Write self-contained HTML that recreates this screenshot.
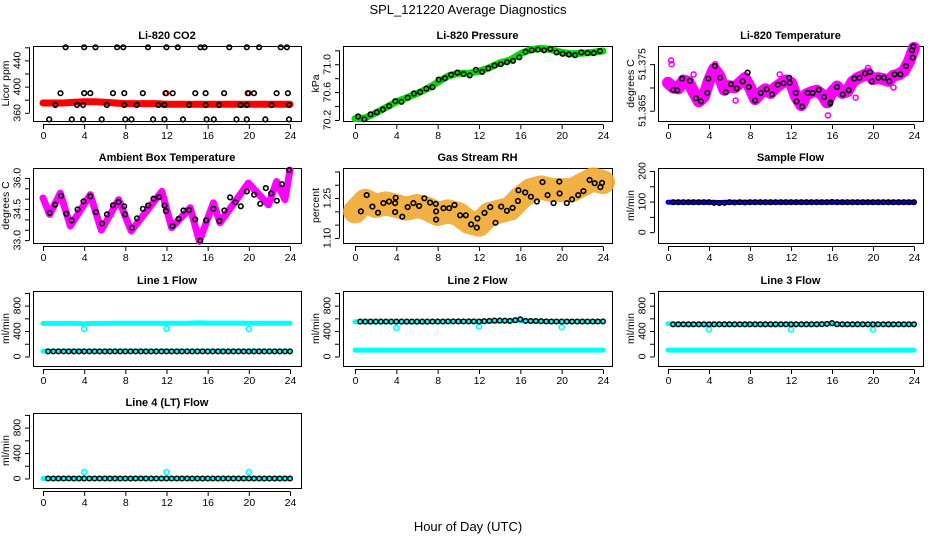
<!DOCTYPE html>
<html><head><meta charset="utf-8"><title>SPL_121220 Average Diagnostics</title>
<style>
html,body{margin:0;padding:0;background:#fff;}
svg{display:block;font-family:"Liberation Sans",Arial,sans-serif;}
</style></head>
<body>
<svg id="chart" width="936" height="540" viewBox="0 0 936 540" xmlns="http://www.w3.org/2000/svg">
<rect x="0" y="0" width="936" height="540" fill="#fff"/>
<text x="468" y="14" text-anchor="middle" font-size="13">SPL_121220  Average Diagnostics</text>
<text x="468" y="531" text-anchor="middle" font-size="13">Hour of Day (UTC)</text>
</svg>
<script>
// ---------- data ----------
const hours25 = [0,1,2,3,4,5,6,7,8,9,10,11,12,13,14,15,16,17,18,19,20,21,22,23,24];
const xTicks = [0,4,8,12,16,20,24];

const co2Red = [375,375,375,376,377,377,376,375,374,374,374,374,373,373,373,373,373,373,373,373,373,373,373,373,373];
const co2BlackT = [2.2,4.0,5.1,7.2,7.8,10.2,12.0,13.1,15.3,15.7,18.1,19.8,21.0,23.1,23.7,
 1.7,4.0,4.6,6.8,7.9,9.7,11.9,12.6,14.8,15.8,17.6,19.9,20.5,22.7,23.8,
 1.2,3.3,3.9,6.2,7.9,9.1,11.2,11.8,14.2,15.8,17.1,19.2,19.8,22.2,23.9,
 0.6,2.8,3.9,5.7,8.0,8.6,10.7,11.8,13.6,15.9,16.6,18.8,19.8,21.6,23.9];
const co2BlackV = [460,460,460,460,460,460,460,460,460,460,460,460,460,460,460,
 390,390,390,390,390,390,390,390,390,390,390,390,390,390,390,
 372,372,372,372,372,372,372,372,372,372,372,372,372,372,372,
 350,350,350,350,350,350,350,350,350,350,350,350,350,350,350];
const co2RedT = [4,12,20];
const co2RedV = [390,390,390];

const pressGreen = [70.22,70.23,70.30,70.38,70.46,70.52,70.58,70.65,70.74,70.83,70.87,70.87,70.90,70.95,71.02,71.06,71.15,71.21,71.23,71.21,71.17,71.15,71.16,71.17,71.19];
const pressBlackT = [0.3,0.9,1.5,2.1,2.7,3.3,3.9,4.5,5.1,5.7,6.3,6.9,7.5,8.1,8.7,9.3,9.9,10.5,11.1,11.7,12.3,12.9,13.5,14.1,14.7,15.3,15.9,16.5,17.1,17.7,18.3,18.9,19.5,20.1,20.7,21.3,21.9,22.5,23.1,23.7];
const pressBlackV = [70.25,70.21,70.28,70.31,70.35,70.40,70.47,70.46,70.52,70.58,70.60,70.65,70.67,70.78,70.80,70.85,70.88,70.86,70.84,70.92,70.89,70.94,70.98,71.00,71.03,71.05,71.10,71.18,71.20,71.21,71.20,71.22,71.17,71.15,71.14,71.13,71.17,71.16,71.16,71.19];

const halfHours = [0,0.5,1,1.5,2,2.5,3,3.5,4,4.5,5,5.5,6,6.5,7,7.5,8,8.5,9,9.5,10,10.5,11,11.5,12,12.5,13,13.5,14,14.5,15,15.5,16,16.5,17,17.5,18,18.5,19,19.5,20,20.5,21,21.5,22,22.5,23,23.5,24];
const tempMagenta = [51.3710,51.3700,51.3698,51.3715,51.3712,51.3690,51.3670,51.3680,51.3715,51.3740,51.3725,51.3695,51.3703,51.3700,51.3710,51.3720,51.3700,51.3675,51.3688,51.3696,51.3688,51.3700,51.3708,51.3715,51.3710,51.3680,51.3662,51.3685,51.3690,51.3693,51.3685,51.3668,51.3690,51.3702,51.3688,51.3692,51.3712,51.3720,51.3725,51.3730,51.3718,51.3720,51.3718,51.3714,51.3725,51.3728,51.3735,51.3755,51.3785];
const tempOutT = [0.3,0.35,2.5,4.6,6.6,10.9,15.6,18.3,19.5,22.0];
const tempOutV = [51.3758,51.3750,51.3728,51.3750,51.3672,51.3728,51.3640,51.3678,51.3742,51.3700];
const tempBlackT = [0.52,0.90,1.38,2.15,2.73,3.22,3.83,3.93,4.58,5.07,5.63,6.15,6.70,7.28,7.77,7.87,8.49,9.04,9.63,10.15,10.70,11.25,11.81,11.87,12.46,12.55,13.07,13.63,14.11,14.70,15.22,15.80,15.85,16.49,17.04,17.63,18.18,18.67,19.22,19.71,19.87,20.52,21.07,21.59,22.11,22.67,23.22,23.80,23.93,23.87];
const tempBlackV = [51.3695,51.3694,51.3719,51.3714,51.3677,51.3670,51.3688,51.3719,51.3746,51.3721,51.3690,51.3707,51.3698,51.3713,51.3732,51.3701,51.3672,51.3688,51.3696,51.3685,51.3706,51.3709,51.3721,51.3710,51.3688,51.3670,51.3659,51.3688,51.3688,51.3695,51.3679,51.3665,51.3668,51.3701,51.3685,51.3694,51.3719,51.3721,51.3730,51.3733,51.3713,51.3721,51.3721,51.3713,51.3728,51.3728,51.3746,51.3780,51.3788,51.3764];

const ambKeyT = [0,0.65,1.68,2.65,4.6,5.66,7.35,8.57,11.55,12.5,14.3,15.2,16.56,17.2,19.96,21.9,22.7,23.5,24];
const ambKeyV = [35.03,34.24,35.27,33.68,35.19,33.48,34.95,33.44,35.35,33.60,34.56,32.94,34.80,33.84,35.75,34.71,35.83,34.95,36.38];
const ambBlackT = [0.64,1.19,1.75,2.26,2.78,3.36,3.94,4.59,5.14,5.73,6.21,6.8,7.34,7.89,7.99,8.64,9.13,9.71,10.22,10.74,11.29,11.81,11.94,12.58,13.17,13.65,14.2,14.79,15.27,15.85,16.56,17.15,17.63,18.18,18.7,19.22,19.8,20.51,21.1,21.65,22.17,22.72,23.2,23.91];
const ambBlackV = [34.32,34.71,35.14,34.27,33.95,34.48,34.87,35.11,34.35,33.80,34.24,34.68,34.84,34.63,34.24,33.60,34.05,34.51,34.67,35.0,35.08,34.67,34.40,33.68,34.03,34.43,34.45,34.0,32.97,33.95,34.51,33.92,34.43,35.06,34.82,34.63,35.35,35.19,34.75,35.51,35.25,34.9,35.70,36.38];

const rhOrange = [1.20,1.24,1.22,1.23,1.22,1.21,1.22,1.21,1.19,1.20,1.19,1.16,1.15,1.19,1.20,1.21,1.25,1.28,1.29,1.28,1.28,1.28,1.30,1.32,1.31];
const rhBlackT = [0.57,1.13,1.68,2.23,2.75,3.3,3.88,3.94,3.88,4.58,5.1,5.65,6.2,6.72,7.27,7.82,7.85,7.85,8.56,9.11,9.63,10.17,10.72,11.24,11.79,11.85,12.53,13.08,13.6,14.15,14.7,15.25,15.76,15.82,16.47,17.02,17.6,18.15,18.64,19.22,19.77,19.8,20.5,21.0,21.6,22.1,22.7,23.2,23.75,23.9];
const rhBlackV = [1.200,1.261,1.218,1.195,1.231,1.237,1.231,1.251,1.197,1.180,1.216,1.231,1.220,1.249,1.233,1.228,1.200,1.169,1.212,1.212,1.224,1.185,1.185,1.151,1.139,1.173,1.194,1.216,1.157,1.218,1.202,1.213,1.239,1.279,1.271,1.255,1.237,1.310,1.261,1.231,1.312,1.267,1.231,1.245,1.261,1.276,1.318,1.306,1.291,1.307];

const flowT = [0.5,1,1.5,2,2.5,3,3.5,4,4.5,5,5.5,6,6.5,7,7.5,8,8.5,9,9.5,10,10.5,11,11.5,12,12.5,13,13.5,14,14.5,15,15.5,16,16.5,17,17.5,18,18.5,19,19.5,20,20.5,21,21.5,22,22.5,23,23.5,24];
const sampleBlue = [98,98,98,98,98,97,98,98,98,98,98,98,98,98,98,98,98,98,98,98,98,98,98,98,98];
const sampleBlack = [98,98,98,98,98,98,98,98,96,95,96,98,97,98,97,98,98,98,98,98,98,98,98,98,98,98,98,98,98,98,98,99,98,98,98,98,98,98,98,98,98,98,98,98,98,98,98,98];

const line1CyanHi = [520,520,520,520,515,520,520,522,522,522,522,522,522,522,522,528,525,525,525,525,522,522,522,522,522];
const line1CyanLo = [85,85,85,85,85,85,85,85,85,85,85,85,85,85,85,85,85,85,85,85,85,85,85,85,85];
const line1Black = [80,80,80,80,80,80,80,80,80,80,80,80,80,80,80,80,80,80,80,80,80,80,80,80,80,80,80,80,80,80,80,80,80,80,80,80,80,80,80,80,80,80,80,80,80,80,80,80];
const line1OutT = [4,12,20];
const line1OutV = [430,435,430];

const line2CyanHi = [545,545,545,545,545,545,545,545,545,545,548,548,550,550,555,560,565,555,550,550,548,548,548,548,548];
const line2CyanLo = [100,100,100,100,100,100,100,100,100,100,100,100,100,100,100,100,100,100,100,100,100,100,100,100,100];
const line2Black = [548,548,548,548,548,548,548,548,548,548,548,548,548,548,550,550,550,552,552,552,552,552,552,550,555,560,565,565,562,560,570,585,560,558,558,555,552,550,550,548,550,550,550,550,550,550,550,552];
const line2OutT = [4,12,20];
const line2OutV = [450,470,460];

const line3CyanHi = [515,505,505,505,505,505,505,505,505,505,505,505,505,505,505,510,515,505,505,505,505,505,505,505,505];
const line3CyanLo = [100,100,100,100,100,100,100,100,100,100,100,100,100,100,100,100,100,100,100,100,100,100,100,100,100];
const line3Black = [506,506,506,506,506,506,506,506,506,506,506,506,506,506,506,506,506,506,506,506,506,506,506,506,506,506,506,506,506,508,512,525,508,506,506,506,506,506,506,506,506,506,506,506,506,506,506,506];
const line3OutT = [4,12,20];
const line3OutV = [425,425,425];

const line4Cyan = [0,0,0,0,0,0,0,0,0,0,0,0,0,0,0,0,0,0,0,0,0,0,0,0,0];
const line4Black = [0,0,0,0,0,0,0,0,0,0,0,0,0,0,0,0,0,0,0,0,0,0,0,0,0,0,0,0,0,0,0,0,0,0,0,0,0,0,0,0,0,0,0,0,0,0,0,0];
const line4OutT = [4,12,20];
const line4OutV = [100,100,100];

const co2Ticks = [360,380,400,420,440,460], co2Labels = [360,400,440];
const pressTicks = [70.2,70.4,70.6,70.8,71.0,71.2], pressLabels = ["70.2","70.6","71.0"];
const tempTicks = [51.365,51.370,51.375], tempLabels = ["51.365","51.375"];
const ambTicks = [33.0,33.5,34.0,34.5,35.0,35.5,36.0], ambLabels = ["33.0","34.5","36.0"];
const rhTicks = [1.10,1.15,1.20,1.25,1.30,1.35], rhLabels = ["1.10","1.25"];
const sampleTicks = [0,50,100,150,200], sampleLabels = [0,100,200];
const flowTicks = [0,200,400,600,800,1000], flowLabels = [0,400,800];

// ---------- layout ----------
const svg = document.getElementById('chart');
const NS = 'http://www.w3.org/2000/svg';
const cols = [{x0:43,x1:290,bl:33,br:301},{x0:355,x1:603,bl:343,br:612},{x0:668,x1:914,bl:658,br:923}];
const rowTops = [46,168,291,413];
const H = 75;

function mk(tag, attrs, parent){
  const e = document.createElementNS(NS, tag);
  for (const k in attrs) e.setAttribute(k, attrs[k]);
  (parent||svg).appendChild(e);
  return e;
}

function panel(name, r, c, title, ylab, ylim, ticks, labels){
  const col = cols[c], top = rowTops[r], bot = top + H;
  const g = mk('g', {});
  
  
  const sx = v => col.x0 + (v/24)*(col.x1-col.x0);
  const sy = v => bot - (v-ylim[0])/(ylim[1]-ylim[0])*H;
  const box = mk('rect', {x:col.bl+0.5,y:top+0.5,width:col.br-col.bl,height:H,fill:'none',stroke:'#000','stroke-width':1}, g);
  
  
  const t = mk('text', {x:(col.bl+col.br)/2,y:top-7,'text-anchor':'middle','font-size':11,'font-weight':'bold'}, g);
  t.textContent = title;
  
  
  const xa = mk('g', {}, g);
  
  
  mk('line', {x1:sx(0),x2:sx(24),y1:bot+3.5,y2:bot+3.5,stroke:'#000'}, xa);
  xTicks.forEach(v=>{
    mk('line', {x1:sx(v)+0.5,x2:sx(v)+0.5,y1:bot+3.5,y2:bot+8,stroke:'#000'}, xa);
    const tl = mk('text', {x:sx(v)+0.5,y:bot+18,'text-anchor':'middle','font-size':10.5}, xa);
    tl.textContent = v;
    
    
  });
  const ya = mk('g', {}, g);
  
  
  const ax = col.bl - 3.5;
  mk('line', {x1:ax,x2:ax,y1:sy(ticks[0]),y2:sy(ticks[ticks.length-1]),stroke:'#000'}, ya);
  ticks.forEach(v=>{ mk('line', {x1:ax-4.5,x2:ax,y1:sy(v)+0.5,y2:sy(v)+0.5,stroke:'#000'}, ya); });
  labels.forEach(v=>{
    const yy = sy(Number(v));
    const tl = mk('text', {x:ax-9,y:yy,'text-anchor':'middle','font-size':10.5,transform:`rotate(-90 ${ax-9} ${yy})`}, ya);
    tl.textContent = v;
    
    
  });
  const yt = mk('text', {x:col.bl-24,y:top+H/2,'text-anchor':'middle','font-size':10.5,transform:`rotate(-90 ${col.bl-24} ${top+H/2})`}, g);
  yt.textContent = ylab;
  
  
  const plot = mk('g', {}, g);
  
  
  return {sx, sy, g:plot};
}

function band(p, xs, ys, color, w, name, op){
  const pts = xs.map((x,i)=>p.sx(x).toFixed(1)+','+p.sy(ys[i]).toFixed(1)).join(' ');
  const pl = mk('polyline', {points:pts,fill:'none',stroke:color,'stroke-width':w,'stroke-linejoin':'round','stroke-linecap':'round','stroke-opacity':op||1}, p.g);
  
  
}
function circles(p, xs, ys, color, r, sw, name){
  const gg = mk('g', {}, p.g);
  
  
  xs.forEach((x,i)=>{
    const c = mk('circle', {cx:p.sx(x).toFixed(1),cy:p.sy(ys[i]).toFixed(1),r:r,fill:'none',stroke:color,'stroke-width':sw}, gg);
    
    
  });
}

let p = panel('co2', 0, 0, 'Li-820 CO2', 'Licor ppm', [347.5,462], co2Ticks, co2Labels);
band(p, hours25, co2Red, '#ff0000', 7, 'co2-red-band');
circles(p, co2RedT, co2RedV, '#ff0000', 2.3, 1.5, 'co2-red-points');
circles(p, co2BlackT, co2BlackV, '#000', 2.3, 1.6, 'co2-black-points');

p = panel('pressure', 0, 1, 'Li-820 Pressure', 'kPa', [70.185,71.262], pressTicks, pressLabels);
band(p, hours25, pressGreen, '#00dd00', 7, 'pressure-green-band');
circles(p, pressBlackT, pressBlackV, '#000', 2.3, 1.6, 'pressure-black-points');

p = panel('li820-temp', 0, 2, 'Li-820 Temperature', 'degrees C', [51.3628,51.3789], tempTicks, tempLabels);
band(p, halfHours, tempMagenta, '#ff00ff', 12, 'temp-magenta-band');
circles(p, tempOutT, tempOutV, '#ff00ff', 2.5, 1.6, 'temp-magenta-outliers');
circles(p, tempBlackT, tempBlackV, '#000', 2.3, 1.6, 'temp-black-points');

p = panel('ambient-temp', 1, 0, 'Ambient Box Temperature', 'degrees C', [32.86,36.48], ambTicks, ambLabels);
band(p, ambKeyT, ambKeyV, '#ff00ff', 7, 'ambient-magenta-line');
circles(p, ambBlackT, ambBlackV, '#000', 2.3, 1.6, 'ambient-black-points');

p = panel('rh', 1, 1, 'Gas Stream RH', 'percent', [1.081,1.363], rhTicks, rhLabels);
band(p, hours25, rhOrange, '#f0a830', 24, 'rh-orange-band', 0.9);
circles(p, rhBlackT, rhBlackV, '#000', 2.3, 1.6, 'rh-black-points');

p = panel('sample-flow', 1, 2, 'Sample Flow', 'ml/min', [-35.5,209.7], sampleTicks, sampleLabels);
band(p, hours25, sampleBlue, '#0000ff', 5, 'sample-blue-band');
circles(p, flowT, sampleBlack, '#000', 2.3, 1.5, 'sample-black-points');

const flowLim = [-150,1030];
p = panel('line1-flow', 2, 0, 'Line 1 Flow', 'ml/min', flowLim, flowTicks, flowLabels);
band(p, hours25, line1CyanHi, '#00ffff', 5, 'line1-cyan-high-band');
band(p, hours25, line1CyanLo, '#00ffff', 5, 'line1-cyan-low-band');
circles(p, line1OutT, line1OutV, '#00ffff', 2.5, 1.6, 'line1-cyan-outliers');
circles(p, flowT, line1Black, '#000', 2.3, 1.5, 'line1-black-points');

p = panel('line2-flow', 2, 1, 'Line 2 Flow', 'ml/min', flowLim, flowTicks, flowLabels);
band(p, hours25, line2CyanHi, '#00ffff', 5, 'line2-cyan-high-band');
band(p, hours25, line2CyanLo, '#00ffff', 5, 'line2-cyan-low-band');
circles(p, line2OutT, line2OutV, '#00ffff', 2.5, 1.6, 'line2-cyan-outliers');
circles(p, flowT, line2Black, '#000', 2.3, 1.5, 'line2-black-points');

p = panel('line3-flow', 2, 2, 'Line 3 Flow', 'ml/min', flowLim, flowTicks, flowLabels);
band(p, hours25, line3CyanHi, '#00ffff', 5, 'line3-cyan-high-band');
band(p, hours25, line3CyanLo, '#00ffff', 5, 'line3-cyan-low-band');
circles(p, line3OutT, line3OutV, '#00ffff', 2.5, 1.6, 'line3-cyan-outliers');
circles(p, flowT, line3Black, '#000', 2.3, 1.5, 'line3-black-points');

p = panel('line4-flow', 3, 0, 'Line 4 (LT) Flow', 'ml/min', flowLim, flowTicks, flowLabels);
band(p, hours25, line4Cyan, '#00ffff', 5, 'line4-cyan-band');
circles(p, line4OutT, line4OutV, '#00ffff', 2.5, 1.6, 'line4-cyan-outliers');
circles(p, flowT, line4Black, '#000', 2.3, 1.5, 'line4-black-points');
</script>
</body></html>
